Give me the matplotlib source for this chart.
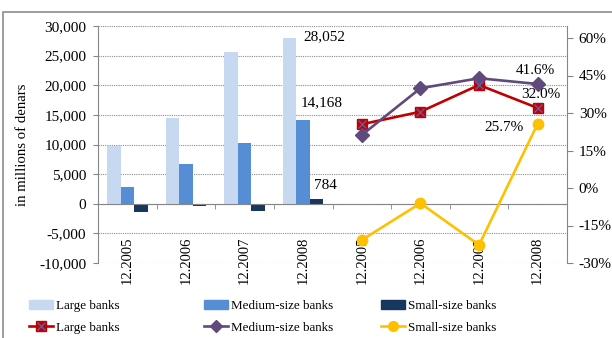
import matplotlib
matplotlib.use("Agg")
import matplotlib.pyplot as plt
import matplotlib.transforms as mtransforms
import numpy as np
from matplotlib.patches import Patch, Rectangle
from matplotlib.lines import Line2D
from matplotlib.ticker import FuncFormatter, FixedLocator

periods = ["12.2005", "12.2006", "12.2007", "12.2008"]

# absolute values, in millions of denars
large_abs = [9700, 14550, 25600, 28052]
medium_abs = [2900, 6750, 10300, 14168]
small_abs = [-1350, -300, -1250, 784]

# growth rates
large_pct = [25.5, 30.5, 41.2, 32.0]
medium_pct = [21.2, 39.9, 43.9, 41.6]
small_pct = [-20.8, -6.1, -22.8, 25.7]

c_large = "#C6D9F1"
c_medium = "#558ED5"
c_small = "#17375E"
c_red = "#C00000"
c_purple = "#604A7B"
c_gold = "#FFC000"
c_cross = "#5B5BA8"
c_grey = "#868686"

plt.rcParams["font.family"] = ["Liberation Serif", "DejaVu Serif"]
plt.rcParams["axes.unicode_minus"] = False

fig = plt.figure(figsize=(6.12, 3.38), dpi=100)
W, H = 612, 338
ax = fig.add_axes([98 / W, (H - 263) / H, (567 - 98) / W, (263 - 26) / H])

n = len(periods)
x_bar = np.arange(n)
x_line = np.arange(n) + n
width = 0.23

ax.bar(x_bar - width, large_abs, width, color=c_large, zorder=2)
ax.bar(x_bar, medium_abs, width, color=c_medium, zorder=2)
ax.bar(x_bar + width, small_abs, width, color=c_small, zorder=2)

ax.set_xlim(-0.5, 2 * n - 0.5)
ax.set_ylim(-10000, 30000)
ax.set_yticks(np.arange(-10000, 30001, 5000))
ax.yaxis.set_major_formatter(FuncFormatter(lambda v, p: f"{v:,.0f}"))
ax.yaxis.grid(True, color="#8c8c8c", linestyle=(0, (1, 1)), linewidth=0.8, zorder=0)
ax.set_axisbelow(True)

ax.spines["top"].set_visible(False)
ax.spines["right"].set_visible(False)
ax.spines["left"].set_color(c_grey)
ax.spines["bottom"].set_color(c_grey)
ax.spines["bottom"].set_position(("data", 0))

# category axis: tick marks between categories, labels hang below the zero line
ax.set_xticks([])
ax.xaxis.set_minor_locator(FixedLocator(np.arange(0.5, 2 * n - 0.5, 1)))
ax.tick_params(axis="x", which="minor", length=3.5, color=c_grey, direction="out")
trans = mtransforms.blended_transform_factory(ax.transData, ax.transAxes)
for i, lab in enumerate(periods + periods):
    ax.text(i, 0.11, lab, transform=trans, rotation=90, ha="center", va="top",
            fontsize=10.5)

ax.tick_params(axis="y", length=3.5, color=c_grey, pad=5, labelsize=11)
ax.set_ylabel("in millions of denars", fontsize=10.6, labelpad=7)

ax2 = ax.twinx()
ax2.set_ylim(-30, 64.8)
ax2.set_yticks(np.arange(-30, 61, 15))
ax2.yaxis.set_major_formatter(FuncFormatter(lambda v, p: f"{v:.0f}%"))
ax2.tick_params(axis="y", length=4, color=c_grey, pad=4.5, labelsize=11)
for s in ["top", "left", "bottom"]:
    ax2.spines[s].set_visible(False)
ax2.spines["right"].set_color(c_grey)

ax2.plot(x_line, large_pct, color=c_red, lw=1.9, marker="s", ms=7.8,
         mfc=c_red, mec=c_red, zorder=3)
ax2.plot(x_line, large_pct, ls="none", marker="x", ms=6.2, mew=1.0,
         color=c_cross, zorder=4)
ax2.plot(x_line, medium_pct, color=c_purple, lw=1.9, marker="D", ms=7,
         mfc=c_purple, mec=c_purple, zorder=3)
ax2.plot(x_line, small_pct, color=c_gold, lw=1.9, marker="o", ms=7.5,
         mfc=c_gold, mec=c_gold, zorder=3)

lab_kw = dict(textcoords="offset points", fontsize=11, va="center")
ax.annotate(f"{large_abs[-1]:,}", (x_bar[-1] - width, large_abs[-1]),
            xytext=(10, 0.5), ha="left", **lab_kw)
ax.annotate(f"{medium_abs[-1]:,}", (x_bar[-1], medium_abs[-1]),
            xytext=(13, 12), ha="center", **lab_kw)
ax.annotate(f"{small_abs[-1]:,}", (x_bar[-1] + width, small_abs[-1]),
            xytext=(6, 10), ha="center", **lab_kw)
ax2.annotate(f"{medium_pct[-1]:.1f}%", (x_line[-1], medium_pct[-1]),
             xytext=(-2, 10), ha="center", **lab_kw)
ax2.annotate(f"{large_pct[-1]:.1f}%", (x_line[-1], large_pct[-1]),
             xytext=(2, 10), ha="center", **lab_kw)
ax2.annotate(f"{small_pct[-1]:.1f}%", (x_line[-1], small_pct[-1]),
             xytext=(-10, -3), ha="right", **lab_kw)

# legend: one block per bank group, bars on top row, lines below
names = ["Large banks", "Medium-size banks", "Small-size banks"]
bar_cols = [c_large, c_medium, c_small]
line_handles = [
    (Line2D([], [], color=c_red, lw=1.9, marker="s", ms=7, mfc=c_red, mec=c_red),
     Line2D([], [], ls="none", marker="x", ms=5.5, mew=1.0, color=c_cross)),
    Line2D([], [], color=c_purple, lw=1.9, marker="D", ms=6, mfc=c_purple),
    Line2D([], [], color=c_gold, lw=1.9, marker="o", ms=7, mfc=c_gold, mec=c_gold),
]
for i, x0 in enumerate([29, 204, 381]):
    fig.legend([Patch(color=bar_cols[i]), line_handles[i]], [names[i], names[i]],
               loc="upper left", bbox_to_anchor=(x0 / W, 1 - 300 / H),
               frameon=False, fontsize=9.4, handlelength=1.8,
               handletextpad=0.3, labelspacing=0.72, borderpad=0,
               borderaxespad=0)

fig.add_artist(Rectangle((3 / W, -0.5), 2, 0.5 + 1 - 12 / H, transform=fig.transFigure,
                         fill=False, edgecolor="#8c8c8c", lw=1.2, clip_on=False))

fig.savefig("out.png", dpi=100)
